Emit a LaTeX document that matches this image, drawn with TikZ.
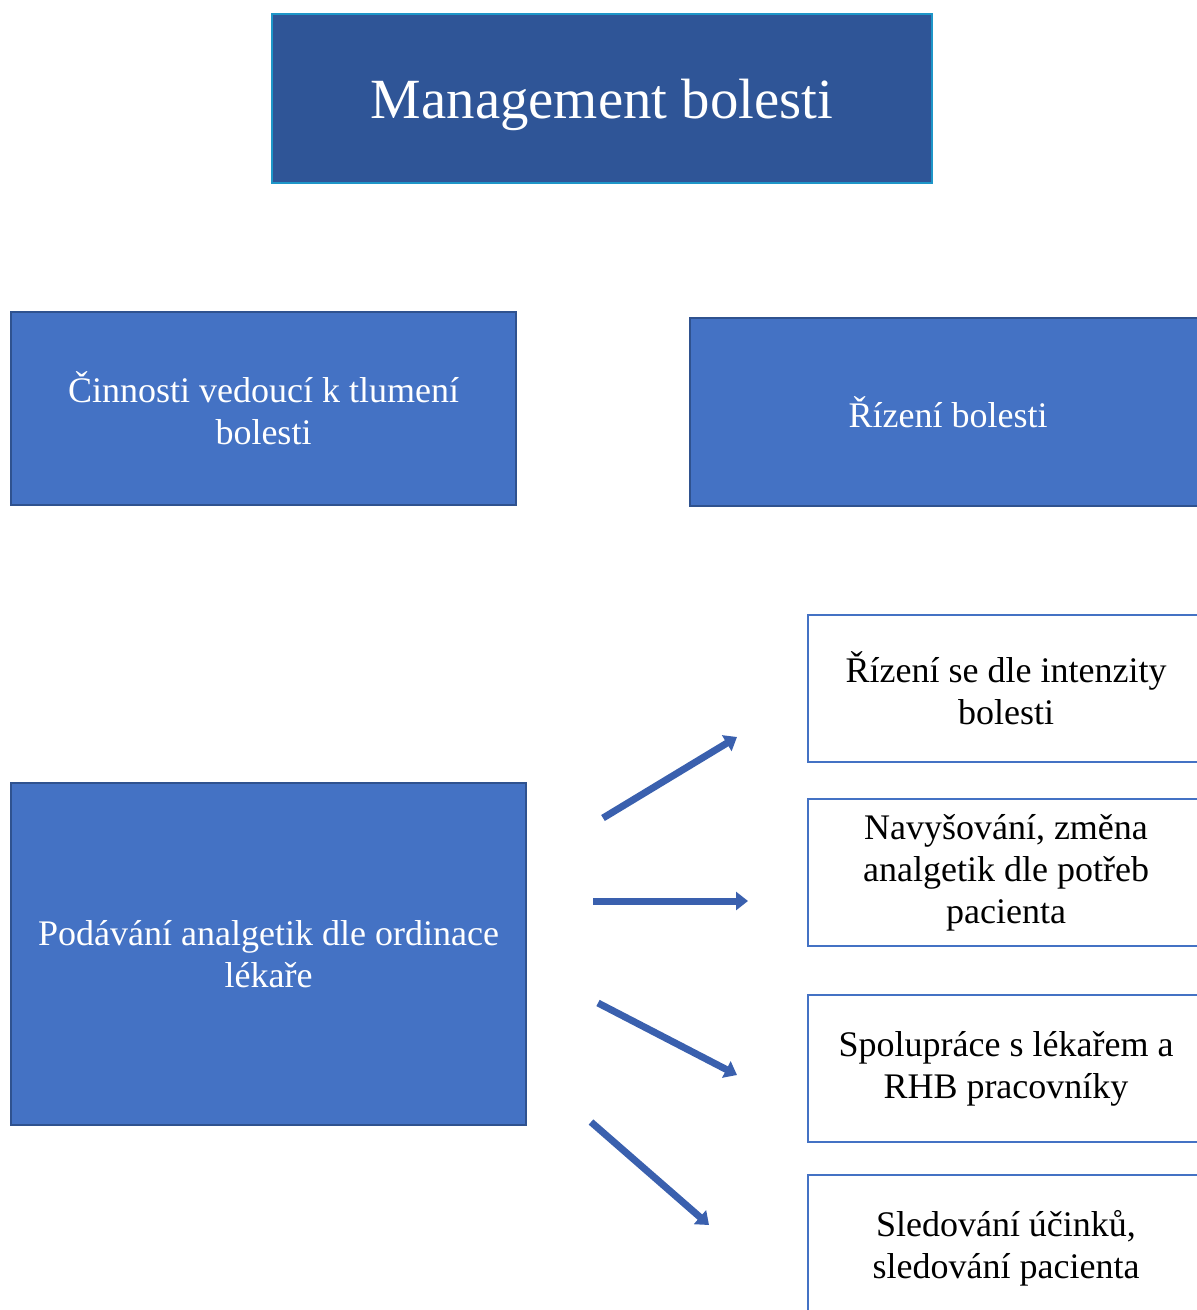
\documentclass[tikz,border=0pt]{standalone}
\usepackage{fontspec}
\setmainfont{Liberation Serif}
\usetikzlibrary{positioning, arrows.meta}
\definecolor{titlefill}{HTML}{2F5597}
\definecolor{titleline}{HTML}{1E96C8}
\definecolor{boxfill}{HTML}{4472C4}
\definecolor{boxline}{HTML}{2F528F}
\definecolor{arrowblue}{HTML}{3A60AE}
\tikzset{
x=0.5pt, y=-0.5pt, % one unit is one pixel of the sketch
title/.style={draw=titleline, fill=titlefill, line width=1pt, text=white, font=\fontsize{28.4}{34}\selectfont, text depth=0pt, minimum width=330pt, minimum height=84.5pt}, % the heading box
bluebox/.style={draw=boxline, fill=boxfill, line width=1pt, text=white, align=center, font=\fontsize{18}{21}\selectfont}, % filled boxes
whitebox/.style={draw=boxfill, fill=white, line width=1pt, align=center, font=\fontsize{18}{21}\selectfont, minimum width=198pt, minimum height=73.5pt}, % the list on the right
arr/.style={arrowblue, line width=3.5pt, -{Triangle[width=9pt,length=6pt]}}, % block arrows
}
\begin{document}
\begin{tikzpicture}
    \useasboundingbox (0,0) rectangle (1197,1310);

    \node[title] (head) at (602,98.5) {Management bolesti};

    \node[bluebox, minimum width=252.5pt, minimum height=96.5pt] (cinnosti) at (263.5,408.5) {Činnosti vedoucí k tlumení\\bolesti};
    \node[bluebox, minimum width=258pt, minimum height=94pt] (rizeni) at (948,412) {Řízení bolesti};
    \node[bluebox, minimum width=257.5pt, minimum height=171pt] (podavani) at (268.5,954) {Podávání analgetik dle ordinace\\lékaře};

    \node[whitebox] (r1) at (1006,688.5) {Řízení se dle intenzity\\bolesti};
    \node[whitebox, below=17.5pt of r1] (r2) {Navyšování, změna\\analgetik dle potřeb\\pacienta};
    \node[whitebox, below=23.5pt of r2] (r3) {Spolupráce s lékařem a\\RHB pracovníky};
    \node[whitebox, below=15.5pt of r3] (r4) {Sledování účinků,\\sledování pacienta};

    % free standing arrows
    \coordinate (a1s) at (603,818);  \coordinate (a1e) at (737,737);
    \coordinate (a2s) at (593,901);  \coordinate (a2e) at (748,901);
    \coordinate (a3s) at (598,1003); \coordinate (a3e) at (737,1075);
    \coordinate (a4s) at (591,1122); \coordinate (a4e) at (709,1225);

    \draw[arr] (a1s) -- (a1e);
    \draw[arr] (a2s) -- (a2e);
    \draw[arr] (a3s) -- (a3e);
    \draw[arr] (a4s) -- (a4e);
\end{tikzpicture}
\end{document}
